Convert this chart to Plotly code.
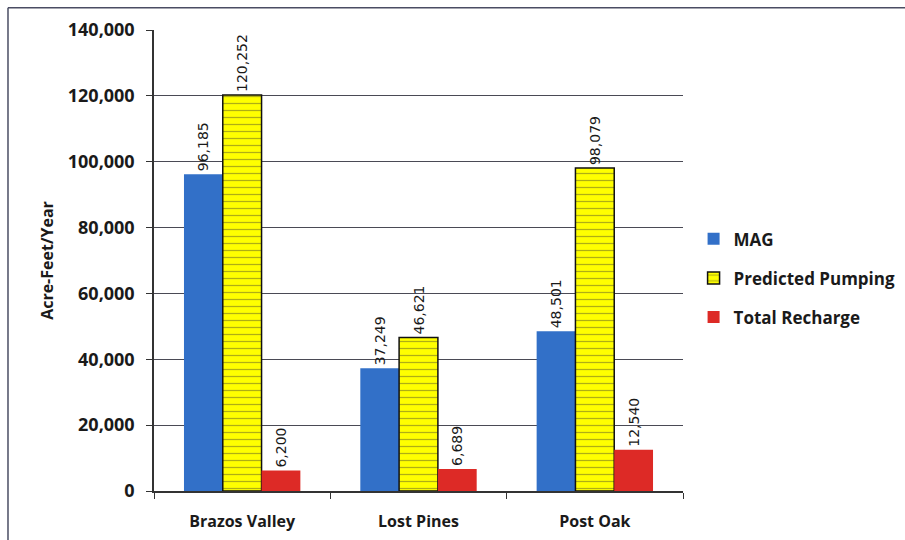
import plotly.graph_objects as go

# Groundwater conservation districts and annual volumes (acre-feet/year)
districts = ["Brazos Valley", "Lost Pines", "Post Oak"]
mag = [96185, 37249, 48501]
predicted_pumping = [120252, 46621, 98079]
total_recharge = [6200, 6689, 12540]

y_ticks = [0, 20000, 40000, 60000, 80000, 100000, 120000, 140000]

label_font = dict(family="DejaVu Sans", size=14, color="#1a1a1a")
bold_font = "Open Sans"

common = dict(textposition="outside", textangle=-90, textfont=label_font,
              cliponaxis=False, constraintext="none")

fig = go.Figure()

fig.add_trace(go.Bar(
    name="MAG", x=districts, y=mag, legendgroup="a",
    marker=dict(color="#3270c8", line=dict(width=0)),
    text=[f"{v:,}" for v in mag], **common,
))
fig.add_trace(go.Bar(
    name="Predicted Pumping", x=districts, y=predicted_pumping, legendgroup="b",
    marker=dict(
        color="#ffff00",
        line=dict(color="#111111", width=1.5),
        pattern=dict(shape="-", fgcolor="#5f5e2a", bgcolor="#ffff00",
                     size=7, solidity=0.18),
    ),
    text=[f"{v:,}" for v in predicted_pumping], **common,
))
fig.add_trace(go.Bar(
    name="Total Recharge", x=districts, y=total_recharge, legendgroup="c",
    marker=dict(color="#dd2a26", line=dict(width=0)),
    text=[f"{v:,}" for v in total_recharge], **common,
))

# Frame lines around the chart area
frame = dict(color="#4a4d63", width=1.5)
fig.add_shape(type="line", xref="paper", yref="paper",
              x0=-0.276, x1=1.5, y0=1.048, y1=1.048, line=frame)
fig.add_shape(type="line", xref="paper", yref="paper",
              x0=-0.276, x1=-0.276, y0=-0.2, y1=1.048, line=frame)

fig.update_layout(
    width=905, height=540,
    margin=dict(l=154, r=222, t=30, b=49, autoexpand=False),
    paper_bgcolor="white", plot_bgcolor="white",
    barmode="group", bargap=0.34, bargroupgap=0,
    font=dict(family=bold_font, color="#1a1a1a"),
    legend=dict(
        x=1.02, y=0.585, xanchor="left", yanchor="top",
        font=dict(family=bold_font, size=17, weight="bold", color="#1a1a1a"),
        tracegroupgap=14, traceorder="grouped",
        itemwidth=30, bgcolor="rgba(0,0,0,0)",
    ),
    showlegend=True,
)

fig.update_xaxes(
    showline=True, linecolor="#333333", linewidth=1.5,
    ticks="outside", ticklen=6, tickcolor="#333333", tickson="boundaries",
    ticklabelstandoff=15,
    tickfont=dict(family=bold_font, size=16, weight="bold", color="#1a1a1a"),
    showgrid=False,
)
fig.update_yaxes(
    range=[0, 140000], tickvals=y_ticks,
    ticktext=[f"{v:,}" for v in y_ticks],
    showline=True, linecolor="#333333", linewidth=1.5,
    ticks="outside", ticklen=6, tickcolor="#333333",
    ticklabelstandoff=8,
    showgrid=True, gridcolor="#4a4a55", gridwidth=1,
    zeroline=False,
    tickfont=dict(family=bold_font, size=18, weight="bold", color="#1a1a1a"),
    title=dict(text="Acre-Feet/Year", standoff=10,
               font=dict(family=bold_font, size=16, weight="bold", color="#1a1a1a")),
)

fig.write_html("out.html")
